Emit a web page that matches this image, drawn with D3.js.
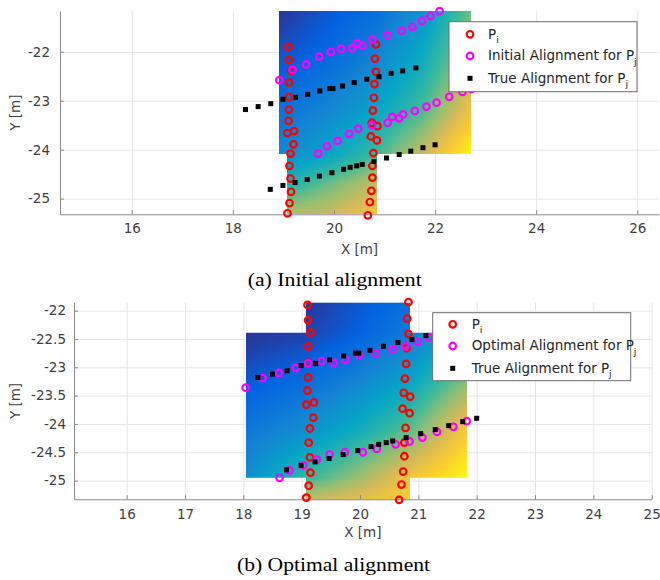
<!DOCTYPE html>
<html>
<head>
<meta charset="utf-8">
<script src="https://cdn.jsdelivr.net/npm/d3@7"></script>
<style>
  body { margin: 0; background: #fff; }
  svg { display: block; }
</style>
</head>
<body>
<svg id="chart" width="660" height="580"></svg>
<script>
// P_i : the two vertical strips of the reference scan
const piX = [19.10, 19.11, 19.15, 19.11, 19.11, 19.11, 19.10, 19.08, 19.21, 19.20, 19.14, 19.12, 19.14, 19.15, 19.12, 19.08,
             20.83, 20.81, 20.83, 20.80, 20.79, 20.77, 20.75, 20.86, 20.73, 20.85, 20.78, 20.76, 20.76, 20.74, 20.71, 20.67];
const piY = [-21.90, -22.17, -22.39, -22.63, -22.92, -23.18, -23.41, -23.66, -23.62, -23.89, -24.08, -24.33, -24.59, -24.86, -25.09, -25.30,
             -21.85, -22.14, -22.41, -22.66, -22.94, -23.20, -23.45, -23.52, -23.73, -23.81, -24.07, -24.33, -24.57, -24.84, -25.07, -25.34];

// P_j with the initial guess
const initX = [18.92, 19.18, 19.45, 19.71, 19.94, 20.14, 20.36, 20.46, 20.56, 20.76, 21.06, 21.34, 21.55, 21.74, 21.91, 22.09,
               19.69, 19.86, 20.07, 20.30, 20.48, 20.75, 21.06, 21.15, 21.29, 21.37, 21.60, 21.83, 22.03, 22.28, 22.54, 22.72];
const initY = [-22.58, -22.37, -22.26, -22.10, -22.00, -21.94, -21.93, -21.83, -21.88, -21.75, -21.66, -21.57, -21.49, -21.37, -21.27, -21.17,
               -24.08, -23.93, -23.82, -23.68, -23.57, -23.50, -23.45, -23.33, -23.36, -23.28, -23.21, -23.12, -23.04, -22.92, -22.82, -22.76];

// P_j at the ground-truth pose
const trueX = [18.25, 18.50, 18.75, 18.99, 19.24, 19.48, 19.72, 19.92, 19.98, 20.17, 20.40, 20.65, 20.89, 21.13, 21.36, 21.62,
               18.74, 18.99, 19.23, 19.47, 19.71, 19.96, 20.19, 20.32, 20.45, 20.56, 20.79, 21.04, 21.29, 21.52, 21.76, 22.00];
const trueY = [-23.18, -23.12, -23.06, -22.97, -22.93, -22.87, -22.80, -22.75, -22.75, -22.70, -22.63, -22.56, -22.51, -22.44, -22.39, -22.33,
               -24.81, -24.73, -24.67, -24.61, -24.54, -24.47, -24.40, -24.36, -24.33, -24.30, -24.24, -24.17, -24.10, -24.03, -23.96, -23.90];

// P_j after optimisation
const optX = [18.04, 18.33, 18.61, 18.90, 19.11, 19.34, 19.55, 19.75, 19.98, 20.27, 20.56, 20.78, 20.99, 21.18, 21.40, 21.62,
              18.62, 18.79, 19.03, 19.26, 19.48, 19.74, 20.05, 20.29, 20.61, 20.85, 21.07, 21.32, 21.60, 21.83];
const optY = [-23.36, -23.19, -23.10, -23.01, -22.93, -22.89, -22.92, -22.87, -22.78, -22.75, -22.68, -22.63, -22.55, -22.47, -22.43, -22.39,
              -24.95, -24.82, -24.73, -24.63, -24.54, -24.50, -24.50, -24.44, -24.36, -24.31, -24.24, -24.14, -24.05, -23.95];

const xTicksA = [16, 18, 20, 22, 24, 26];
const yTicksA = [-25, -24, -23, -22];
const xTicksB = [16, 17, 18, 19, 20, 21, 22, 23, 24, 25];
const yTicksB = [-25, -24.5, -24, -23.5, -23, -22.5, -22];

// background colour field (position in the colormap, 0..1)
const fieldAX = [18.9, 19.85, 20.8, 21.75, 22.72];
const fieldAY = [-21.17, -22.2, -23.2, -24.1, -24.7, -25.34];
const fieldAV = [
  [0.02, 0.10, 0.16, 0.30, 0.58],
  [0.10, 0.15, 0.25, 0.40, 0.68],
  [0.17, 0.25, 0.36, 0.52, 0.82],
  [0.25, 0.36, 0.50, 0.72, 1.00],
  [0.42, 0.56, 0.70, 0.85, 1.00],
  [0.68, 0.72, 0.84, 0.92, 1.00]
];
const fieldBX = [18.08, 19.02, 19.96, 20.9, 21.83];
const fieldBY = [-21.86, -22.39, -23.2, -24.1, -24.95, -25.33];
const fieldBV = [
  [0.00, 0.02, 0.10, 0.17, 0.30],
  [0.02, 0.05, 0.12, 0.22, 0.40],
  [0.10, 0.15, 0.24, 0.36, 0.60],
  [0.20, 0.28, 0.40, 0.56, 0.85],
  [0.28, 0.48, 0.64, 0.84, 1.00],
  [0.36, 0.70, 0.78, 0.88, 1.00]
];

const parulaStops = ["#352a87", "#0363e1", "#1485d4", "#06a7c6", "#38b99e", "#92bf73", "#d9ba56", "#fcce2e", "#f9fb0e"];
const parula = d3.scaleLinear()
  .domain(d3.range(parulaStops.length).map(i => i / (parulaStops.length - 1)))
  .range(parulaStops)
  .clamp(true);
const lut = d3.range(256).map(i => d3.rgb(parula(i / 255)));

const svg = d3.select("#chart");
svg.append("rect").attr("width", 660).attr("height", 580).attr("fill", "#fff");

const font = "'DejaVu Sans', sans-serif";

const boxOf = (xs, ys) => {
  const [x0, x1] = d3.extent(xs), [y0, y1] = d3.extent(ys);
  return { x0, x1, y0, y1 };
};

// paint the colour field into a canvas, only inside the two point clouds' boxes
function drawField(g, x, y, fx, fy, fv, boxes) {
  const [px0, px1] = x.range();
  const [py1, py0] = y.range();
  const w = Math.round(px1 - px0), h = Math.round(py1 - py0);
  const canvas = document.createElement("canvas");
  canvas.width = w;
  canvas.height = h;
  const ctx = canvas.getContext("2d");
  const img = ctx.createImageData(w, h);
  const ix = d3.scaleLinear().domain(fx).range(d3.range(fx.length)).clamp(true);
  const iy = d3.scaleLinear().domain(fy).range(d3.range(fy.length)).clamp(true);
  for (let r = 0; r < h; r++) {
    const dy = y.invert(py0 + r + 0.5);
    for (let c = 0; c < w; c++) {
      const dx = x.invert(px0 + c + 0.5);
      if (!boxes.some(b => dx >= b.x0 && dx <= b.x1 && dy >= b.y0 && dy <= b.y1)) continue;
      const u = ix(dx), v = iy(dy);
      const i = Math.min(Math.floor(u), fx.length - 2);
      const j = Math.min(Math.floor(v), fy.length - 2);
      const tu = u - i, tv = v - j;
      const val = (1 - tu) * (1 - tv) * fv[j][i] + tu * (1 - tv) * fv[j][i + 1] +
                  (1 - tu) * tv * fv[j + 1][i] + tu * tv * fv[j + 1][i + 1];
      const col = lut[Math.round(Math.max(0, Math.min(1, val)) * 255)];
      const k = (r * w + c) * 4;
      img.data[k] = col.r;
      img.data[k + 1] = col.g;
      img.data[k + 2] = col.b;
      img.data[k + 3] = 255;
    }
  }
  ctx.putImageData(img, 0, 0);
  g.append("image")
    .attr("x", px0).attr("y", py0)
    .attr("width", w).attr("height", h)
    .attr("href", canvas.toDataURL());
}

function drawPanel(p) {
  const x = d3.scaleLinear().domain(p.xDomain).range([p.left, p.right]);
  const y = d3.scaleLinear().domain(p.yDomain).range([p.bottom, p.top]);
  const g = svg.append("g");

  // grid
  g.append("g")
    .attr("transform", `translate(0,${p.bottom})`)
    .call(d3.axisBottom(x).tickValues(p.xTicks).tickSize(-(p.bottom - p.top)).tickFormat(""))
    .call(a => a.select(".domain").remove())
    .call(a => a.selectAll("line").attr("stroke", "#e6e6e6"));
  g.append("g")
    .attr("transform", `translate(${p.left},0)`)
    .call(d3.axisLeft(y).tickValues(p.yTicks).tickSize(-(p.right - p.left)).tickFormat(""))
    .call(a => a.select(".domain").remove())
    .call(a => a.selectAll("line").attr("stroke", "#e6e6e6"));

  drawField(g, x, y, p.fx, p.fy, p.fv, [boxOf(p.pjX, p.pjY), boxOf(piX, piY)]);

  // axes, ticks pointing inward
  const xAxis = g.append("g")
    .attr("transform", `translate(0,${p.bottom})`)
    .call(d3.axisBottom(x).tickValues(p.xTicks).tickSizeInner(-4).tickSizeOuter(0)
      .tickPadding(p.xPad).tickFormat(d => String(d)));
  const yAxis = g.append("g")
    .attr("transform", `translate(${p.left},0)`)
    .call(d3.axisLeft(y).tickValues(p.yTicks).tickSizeInner(-4).tickSizeOuter(0)
      .tickPadding(p.yPad).tickFormat(d => String(d)));
  [xAxis, yAxis].forEach(a => {
    a.select(".domain").attr("stroke", "#8a8a8a");
    a.selectAll("line").attr("stroke", "#8a8a8a");
    a.selectAll("text").attr("fill", "#404040").style("font-family", font).style("font-size", "13.5px");
  });

  // points
  g.append("g").selectAll("circle")
    .data(d3.zip(piX, piY)).join("circle")
    .attr("cx", d => x(d[0])).attr("cy", d => y(d[1])).attr("r", 3.3)
    .attr("fill", "none").attr("stroke", "#ff0000").attr("stroke-width", 2.2);
  g.append("g").selectAll("circle")
    .data(d3.zip(p.pjX, p.pjY)).join("circle")
    .attr("cx", d => x(d[0])).attr("cy", d => y(d[1])).attr("r", 3.3)
    .attr("fill", "none").attr("stroke", "#ff00ff").attr("stroke-width", 2.2);
  g.append("g").selectAll("rect")
    .data(d3.zip(trueX, trueY)).join("rect")
    .attr("x", d => x(d[0]) - 2.5).attr("y", d => y(d[1]) - 2.5)
    .attr("width", 5).attr("height", 5).attr("fill", "#000");

  // axis labels
  g.append("text")
    .attr("x", (p.left + p.right) / 2).attr("y", p.xLabelY)
    .attr("text-anchor", "middle").attr("fill", "#404040")
    .style("font-family", font).style("font-size", "13.5px")
    .text("X [m]");
  g.append("text")
    .attr("transform", `translate(20,${(p.top + p.bottom) / 2}) rotate(-90)`)
    .attr("text-anchor", "middle").attr("fill", "#404040")
    .style("font-family", font).style("font-size", "13.5px")
    .text("Y [m]");

  // legend
  const lg = g.append("g").attr("transform", `translate(${p.legend.x},${p.legend.y})`);
  lg.append("rect")
    .attr("width", p.legend.w).attr("height", p.legend.h)
    .attr("fill", "#fff").attr("stroke", "#6e6e6e").attr("stroke-width", 1);
  const entries = [
    { base: "P", sub: "i", kind: "o", color: "#ff0000" },
    { base: p.pjLabel + " for P", sub: "j", kind: "o", color: "#ff00ff" },
    { base: "True Alignment for P", sub: "j", kind: "s", color: "#000" }
  ];
  entries.forEach((e, i) => {
    const cy = p.legend.rows[i];
    if (e.kind === "o") {
      lg.append("circle").attr("cx", p.legend.mx).attr("cy", cy).attr("r", 3.3)
        .attr("fill", "none").attr("stroke", e.color).attr("stroke-width", 2.2);
    } else {
      lg.append("rect").attr("x", p.legend.mx - 2.5).attr("y", cy - 2.5)
        .attr("width", 5).attr("height", 5).attr("fill", e.color);
    }
    const t = lg.append("text").attr("x", p.legend.tx).attr("y", cy + 4.5)
      .attr("fill", "#262626").style("font-family", font).style("font-size", "13.5px");
    t.append("tspan").text(e.base);
    t.append("tspan").attr("dy", 4.5).style("font-size", "9.5px").text(e.sub);
  });

  // caption
  svg.append("text")
    .attr("x", p.captionX).attr("y", p.captionY)
    .attr("text-anchor", "middle").attr("fill", "#000")
    .attr("textLength", p.captionW).attr("lengthAdjust", "spacingAndGlyphs")
    .style("font-family", "'Liberation Serif', 'Times New Roman', serif").style("font-size", "19px")
    .text(p.caption);
}

drawPanel({
  left: 60, right: 659, top: 11, bottom: 214.3,
  xDomain: [14.58, 26.43], yDomain: [-25.32, -21.167],
  xTicks: xTicksA, yTicks: yTicksA, xPad: 9.5, yPad: 10,
  fx: fieldAX, fy: fieldAY, fv: fieldAV,
  pjX: initX, pjY: initY, pjLabel: "Initial Alignment",
  xLabelY: 253.5,
  legend: { x: 449, y: 21.7, w: 188, h: 70, mx: 21, tx: 39, rows: [12.6, 34.3, 56.6] },
  caption: "(a) Initial alignment", captionX: 334.7, captionY: 286, captionW: 174
});

drawPanel({
  left: 74, right: 651.7, top: 302.7, bottom: 499.3,
  xDomain: [15.097, 25], yDomain: [-25.33, -21.86],
  xTicks: xTicksB, yTicks: yTicksB, xPad: 10.5, yPad: 8,
  fx: fieldBX, fy: fieldBY, fv: fieldBV,
  pjX: optX, pjY: optY, pjLabel: "Optimal Alignment",
  xLabelY: 537,
  legend: { x: 432.7, y: 312.7, w: 198, h: 68, mx: 20, tx: 39, rows: [11.6, 33.3, 55.6] },
  caption: "(b) Optimal alignment", captionX: 333.5, captionY: 571, captionW: 193
});
</script>
</body>
</html>
